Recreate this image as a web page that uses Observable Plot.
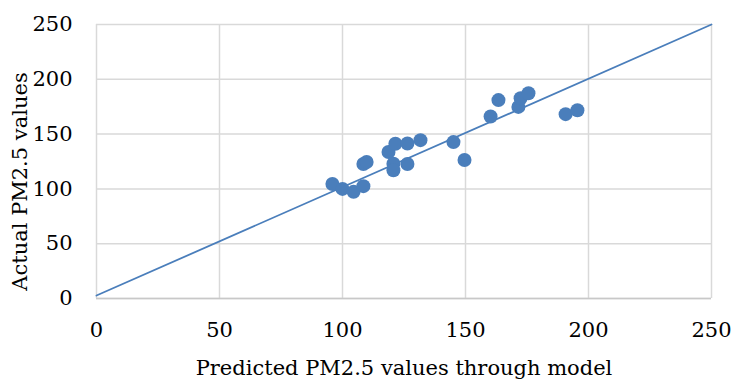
<!DOCTYPE html>
<html>
<head>
<meta charset="utf-8">
<script src="https://cdn.jsdelivr.net/npm/d3@7"></script>
<script src="https://cdn.jsdelivr.net/npm/@observablehq/plot@0.6"></script>
<style>
  html, body { margin: 0; padding: 0; background: #fff; }
</style>
</head>
<body>
<div id="chart"></div>
<script>
const predicted = [95.9, 100.0, 104.5, 108.5, 108.5, 109.8, 118.7, 121.5, 126.4, 131.7, 120.7, 120.7, 126.4, 145.1, 149.6, 160.2, 163.4, 171.5, 172.4, 175.6, 190.7, 195.5];
const actual    = [104.5, 100.0, 97.3, 102.5, 122.7, 124.5, 133.6, 141.2, 141.4, 144.5, 123.0, 117.0, 122.7, 142.7, 126.4, 166.0, 181.0, 174.8, 182.7, 187.3, 168.2, 171.8];
const trendX = [0, 250];
const trendY = [2.7, 250];
const ticks = [0, 50, 100, 150, 200, 250];
const xTitle = "Predicted PM2.5 values through model";
const yTitle = "Actual PM2.5 values";

const points = predicted.map((p, i) => ({x: p, y: actual[i]}));
const trend = trendX.map((x, i) => ({x, y: trendY[i]}));

const blue = "#4a7ebb";
const grid = "#d9d9d9";
const font = "'DejaVu Serif', 'Liberation Serif', serif";

const chart = Plot.plot({
  width: 734,
  height: 380,
  marginLeft: 96,
  marginRight: 23,
  marginTop: 24,
  marginBottom: 82,
  style: {fontFamily: font, fontSize: "21px", color: "#000", background: "#fff", overflow: "visible"},
  x: {domain: [0, 250], ticks: ticks},
  y: {domain: [0, 250], ticks: ticks},
  marks: [
    Plot.ruleX(ticks, {stroke: grid, strokeWidth: 1.5}),
    Plot.ruleY(ticks, {stroke: grid, strokeWidth: 1.5}),
    Plot.ruleY([0], {stroke: "#c8c8c8", strokeWidth: 1.5}),
    Plot.axisX(ticks, {tickSize: 0, tickPadding: 24, fontSize: 21, label: null, fill: "#000"}),
    Plot.axisY(ticks, {tickSize: 0, tickPadding: 24, fontSize: 21, label: null, fill: "#000"}),
    Plot.line(trend, {x: "x", y: "y", stroke: blue, strokeWidth: 1.8}),
    Plot.dot(points, {x: "x", y: "y", r: 7, fill: blue, stroke: "none"}),
    Plot.text([xTitle], {frameAnchor: "bottom", dy: 76, fontSize: 21, fill: "#000"}),
    Plot.text([yTitle], {frameAnchor: "left", textAnchor: "middle", rotate: -90, dx: -76, dy: 20, fontSize: 21, fill: "#000"})
  ]
});
document.getElementById("chart").appendChild(chart);
</script>
</body>
</html>
